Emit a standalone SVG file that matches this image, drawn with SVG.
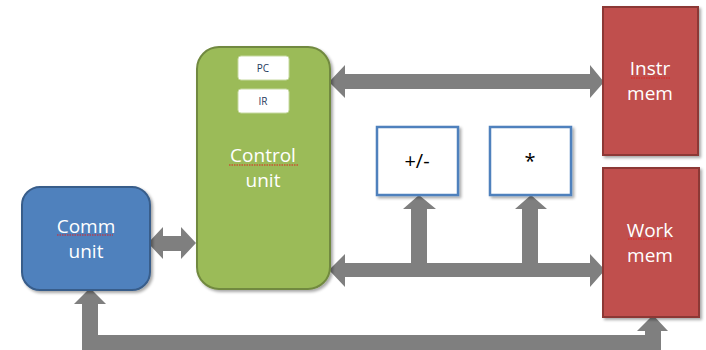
<svg xmlns="http://www.w3.org/2000/svg" width="706" height="350" viewBox="0 0 706 350">
<defs>
<filter id="sh" x="-10%" y="-10%" width="130%" height="130%">
<feGaussianBlur in="SourceAlpha" stdDeviation="1.5"/>
<feOffset dx="2" dy="2" result="b"/>
<feComponentTransfer><feFuncA type="linear" slope="0.35"/></feComponentTransfer>
<feMerge><feMergeNode/><feMergeNode in="SourceGraphic"/></feMerge>
</filter>
</defs>
<style>
.lbl{font-family:"Open Sans","Liberation Sans",sans-serif;font-size:19px;fill:#ffffff;text-anchor:middle}
.reg{font-family:"Open Sans","Liberation Sans",sans-serif;font-size:10px;fill:#1F3B5E;text-anchor:middle}
.op{font-family:"Open Sans","Liberation Sans",sans-serif;font-size:20px;fill:#000000;text-anchor:middle}
.arr{fill:#7F7F7F}
.sq{stroke:#E02020;stroke-width:1.2;stroke-dasharray:1.5 1;fill:none}
.box{fill:#ffffff;stroke:#4F81BD;stroke-width:2.5}
.mem{fill:#C0504D;stroke:#8C3836;stroke-width:2}
</style>
<rect width="706" height="350" fill="#ffffff"/>

<g id="connectors">
<polygon class="arr" points="329,82 345,65 345,74 590,74 590,65 604,82 590,98 590,89 345,89 345,98"/>
<polygon class="arr" points="329,270 345,254 345,263 411,263 411,209 403,209 419,195 436,209 427,209 427,263 522,263 522,209 515,209 531,195 547,209 538,209 538,263 590,263 590,254 605,270 590,287 590,277 345,277 345,287"/>
<polygon class="arr" points="148,243 163,227 163,236 181,236 181,227 196,243 181,259 181,251 163,251 163,259"/>
<polygon class="arr" points="82,351 82,304 74,304 90,288 106,304 98,304 98,335 645,335 645,331 637,331 653,315 668,331 661,331 661,351"/>
</g>

<g id="comm-unit">
<rect x="22" y="187" width="128" height="103" rx="18" fill="#4F81BD" stroke="#385D8A" stroke-width="2" filter="url(#sh)"/>
<text class="lbl" x="86" y="233">Comm</text>
<text class="lbl" x="86" y="258">unit</text>
<line class="sq" x1="57" y1="235" x2="113" y2="235"/>
</g>

<g id="control-unit">
<rect x="197" y="47" width="133" height="242" rx="22" fill="#9BBB59" stroke="#71893F" stroke-width="2" filter="url(#sh)"/>
<text class="lbl" x="263" y="162">Control</text>
<text class="lbl" x="263" y="187">unit</text>
<line class="sq" x1="229" y1="165" x2="298" y2="165"/>
</g>

<g id="pc">
<rect x="238" y="56" width="51" height="24" rx="3" fill="#ffffff" stroke="#C6D9A0" stroke-width="1"/>
<text class="reg" x="263" y="72">PC</text>
</g>

<g id="ir">
<rect x="238" y="89" width="51" height="24" rx="3" fill="#ffffff" stroke="#C6D9A0" stroke-width="1"/>
<text class="reg" x="263" y="105">IR</text>
</g>

<g id="instr-mem">
<rect class="mem" x="603" y="7" width="95" height="148" filter="url(#sh)"/>
<text class="lbl" x="650" y="75">Instr</text>
<text class="lbl" x="650" y="100">mem</text>
<line class="sq" x1="631" y1="78" x2="670" y2="78"/>
</g>

<g id="work-mem">
<rect class="mem" x="603" y="168" width="96" height="149" filter="url(#sh)"/>
<text class="lbl" x="650" y="237">Work</text>
<text class="lbl" x="650" y="262">mem</text>
<line class="sq" x1="628" y1="239" x2="673" y2="239"/>
</g>

<g id="addsub">
<rect class="box" x="377" y="127" width="81" height="68" filter="url(#sh)"/>
<text class="op" x="417" y="168">+/-</text>
</g>

<g id="mul">
<rect class="box" x="490" y="127" width="81" height="68" filter="url(#sh)"/>
<text class="op" x="530" y="168">*</text>
</g>
</svg>
